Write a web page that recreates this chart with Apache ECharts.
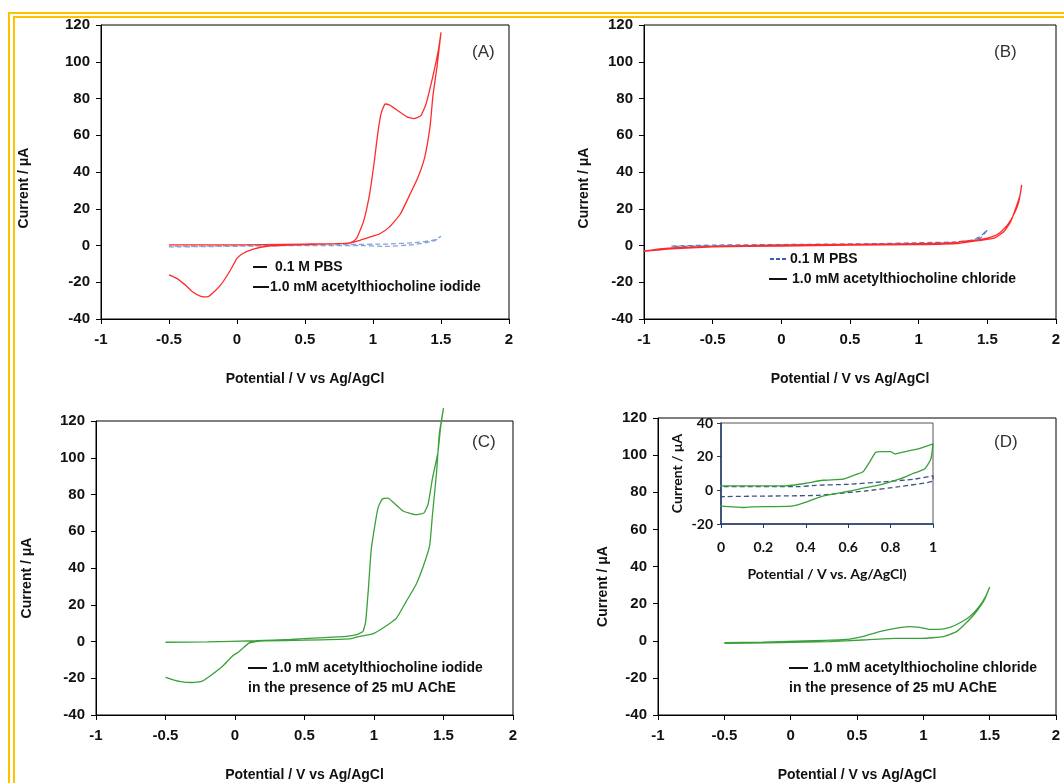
<!DOCTYPE html>
<html>
<head>
<meta charset="utf-8">
<script src="https://cdn.jsdelivr.net/npm/echarts@6/dist/echarts.min.js"></script>
<style>
  html, body { margin: 0; padding: 0; background: #fff; }
  #main { width: 1064px; height: 783px; }
</style>
</head>
<body>
<div id="main"></div>
<script>
// axis ticks
const xTicksMain = [-1, 2, 0.5]
const yTicksMain = [-40, 120, 20]
const xTicksInset = [0, 1, 0.2]
const yTicksInset = [-20, 40, 20]

// (A) red: 1.0 mM acetylthiocholine iodide, blue dashed: 0.1 M PBS
const aV = [-0.5,-0.2,0.2,0.5,0.8,0.85,0.88,0.93,0.975,1.01,1.035,1.06,1.09,1.12,1.17,1.25,1.30,1.35,1.39,1.44,1.48,1.5,
  1.47,1.44,1.42,1.38,1.33,1.26,1.2,1.12,1.05,0.975,0.9,0.83,0.5,0.22,0.12,0.04,0,-0.05,-0.115,-0.18,-0.22,-0.27,-0.33,-0.38,-0.44,-0.5]
const aI = [0.3,0.3,0.5,0.8,1.2,2,4,13,28,46,61,72,77,76.5,74,70,69,70.5,77,92,106,116,
  97,81,65,48,37,26,17,10,6.4,4.5,2.7,1.3,0.5,-0.4,-2,-4.5,-7,-13.6,-21,-26,-28,-27.5,-25,-21.5,-18,-16]
const aPbsV = [-0.5,0,0.5,0.9,1.1,1.3,1.45,1.5,1.45,1.3,1.1,0.8,0.3,-0.5]
const aPbsI = [-0.8,-0.4,0,0,-0.5,0.5,2.5,5,3,1.5,0.8,0.5,0,-0.5]

// (B) red: 1.0 mM acetylthiocholine chloride, blue dashed: 0.1 M PBS
const bV = [-1,-0.9,-0.8,-0.5,0,0.5,1,1.28,1.3,1.4,1.5,1.56,1.6,1.65,1.7,1.73,1.75,
  1.74,1.71,1.67,1.62,1.55,1.45,1.3,1,0.5,0,-0.5,-0.8,-0.9,-1]
const bI = [-3,-2,-1.3,-0.5,0.2,0.6,1,1.5,2.2,2.8,4,5.5,7.5,11.5,18,24,33,
  28,21,13,7.5,4,2.8,1.2,0.5,0.2,-0.3,-0.8,-1.8,-2.5,-3.2]
const bPbsV = [-0.8,-0.5,0,0.7,1,1.3,1.4,1.45,1.5,1.45,1.35,1,0,-0.8]
const bPbsI = [-0.3,0.2,0.5,1,1.5,2,3.2,5,8.5,4,1.8,0.8,0.2,-0.6]

// (C) green: iodide + 25 mU AChE
const cV = [-0.5,-0.2,0.15,0.4,0.6,0.8,0.87,0.92,0.94,0.96,0.98,1.01,1.03,1.06,1.1,1.15,1.21,1.3,1.36,1.39,1.42,1.46,1.48,1.5,
  1.47,1.45,1.42,1.40,1.35,1.3,1.23,1.16,1.07,0.99,0.89,0.82,0.5,0.22,0.15,0.1,0.03,-0.02,-0.09,-0.165,-0.235,-0.31,-0.38,-0.45,-0.5]
const cI = [-0.4,-0.2,0.4,1.2,2,2.8,3.6,5.4,10.8,29,50,65,73,77.5,78,75,71,69,70,75,88.5,103,117,127,
  113,92,68.5,52,40,30.6,21.6,12.6,7.6,4.1,2.7,1.4,0.7,0.4,0,-0.9,-5.4,-8,-13.5,-18,-21.6,-22.3,-22,-20.7,-19.5]

// (D) green: chloride + 25 mU AChE
const dV = [-0.5,-0.21,0.17,0.42,0.54,0.67,0.79,0.89,0.97,1.05,1.12,1.2,1.27,1.35,1.42,1.47,1.5,
  1.46,1.39,1.32,1.25,1.15,0.99,0.79,0.54,0.29,-0.08,-0.5]
const dI = [-1,-0.7,0,0.7,2.2,4.9,6.7,7.6,7.2,6.1,6.1,7.2,9.4,13,18.4,24,29,
  22,14.8,9.4,4.9,2.2,1.3,1.3,0.4,-0.5,-1,-1.4]

// (D) inset
const insetV = [-0.1,0,0.3,0.4,0.48,0.575,0.62,0.67,0.7,0.73,0.76,0.8,0.82,0.87,0.93,1,
  0.99,0.96,0.91,0.84,0.76,0.68,0.61,0.48,0.39,0.33,0.15,0.11,0,-0.1]
const insetI = [2.2,2.6,2.6,4.2,6,6.6,8.6,11,16.6,22.6,23,23,21.6,23,24.6,27.6,
  18.6,12.6,10.2,6.6,3.6,1.6,-0.4,-3.4,-7.4,-9.4,-9.8,-10.2,-9.4,-9.4]
const insetPbsV = [-0.1,0.37,0.45,0.6,0.76,0.91,1,1,0.84,0.68,0.45,0.22,0,-0.1]
const insetPbsI = [2.2,2.2,3,3.6,5,6.6,8.6,5.6,2.2,-0.4,-3,-3.4,-3.8,-5.4]

const zip = (xs, ys) => xs.map((x, i) => [x, ys[i]])

const FONT = 'Liberation Sans, Arial, sans-serif'
const INSET_FONT = 'Lato, Liberation Sans, sans-serif'
const RED = '#ff2b2b'
const GREEN = '#3aa13a'

function xAxis(gridIndex) {
  return {
    type: 'value', gridIndex, min: xTicksMain[0], max: xTicksMain[1], interval: xTicksMain[2],
    name: 'Potential / V vs Ag/AgCl', nameLocation: 'middle', nameGap: 53,
    nameTextStyle: { fontFamily: FONT, fontWeight: 'bold', fontSize: 14, color: '#111' },
    axisLine: { onZero: false, lineStyle: { color: '#000', width: 1 } },
    axisTick: { show: true, length: 5, lineStyle: { color: '#000' } },
    axisLabel: { fontFamily: FONT, fontWeight: 'bold', fontSize: 15, color: '#111', margin: 13 },
    splitLine: { show: false }
  }
}

function yAxis(gridIndex, gap, shift) {
  return {
    type: 'value', gridIndex, min: yTicksMain[0], max: yTicksMain[1], interval: yTicksMain[2],
    name: 'Current / μA', nameLocation: 'middle', nameGap: gap, nameRotate: 90,
    nameTextStyle: { fontFamily: FONT, fontWeight: 'bold', fontSize: 14, color: '#111', padding: [0, shift, 0, 0] },
    axisLine: { onZero: false, lineStyle: { color: '#000', width: 1 } },
    axisTick: { show: true, length: 5, lineStyle: { color: '#000' } },
    axisLabel: { fontFamily: FONT, fontWeight: 'bold', fontSize: 15, color: '#111', margin: 11 },
    splitLine: { show: false }
  }
}

function curve(i, data, color, dashed) {
  return {
    type: 'line', xAxisIndex: i, yAxisIndex: i, data, showSymbol: false, smooth: 0.15,
    clip: false, silent: true,
    lineStyle: { color, width: 1.3, type: dashed ? [5, 3] : 'solid' }
  }
}

function txt(x, y, text, size, weight, color) {
  return { type: 'text', x, y, style: { text, fontFamily: FONT, fontSize: size, fontWeight: weight || 'bold', fill: color || '#111', textVerticalAlign: 'middle' } }
}
function dash(x1, x2, y, color, dashed) {
  return { type: 'line', shape: { x1, y1: y, x2, y2: y }, style: { stroke: color || '#111', lineWidth: 2, lineDash: dashed ? [4, 2] : null } }
}

const chart = echarts.init(document.getElementById('main'))
chart.setOption({
  animation: false,
  grid: [
    { left: 101, top: 25, width: 408, height: 294, show: true, borderColor: '#000', borderWidth: 1 },
    { left: 644, top: 25, width: 412, height: 294, show: true, borderColor: '#000', borderWidth: 1 },
    { left: 96, top: 421, width: 417, height: 295, show: true, borderColor: '#000', borderWidth: 1 },
    { left: 658, top: 418, width: 398, height: 297, show: true, borderColor: '#000', borderWidth: 1 },
    { left: 721, top: 423, width: 212, height: 101, show: true, borderColor: '#555', borderWidth: 1, backgroundColor: 'transparent' }
  ],
  xAxis: [
    xAxis(0), xAxis(1), xAxis(2), xAxis(3),
    {
      type: 'value', gridIndex: 4, min: xTicksInset[0], max: xTicksInset[1], interval: xTicksInset[2],
      name: 'Potential / V vs. Ag/AgCl)', nameLocation: 'middle', nameGap: 43,
      nameTextStyle: { fontFamily: INSET_FONT, fontWeight: 'bold', fontSize: 14, color: '#111' },
      axisLine: { onZero: false, lineStyle: { color: '#1f3a6e', width: 1.5 } },
      axisTick: { show: true, length: 4, lineStyle: { color: '#1f3a6e' } },
      axisLabel: { fontFamily: INSET_FONT, fontWeight: 'bold', fontSize: 14, color: '#111', margin: 16 },
      splitLine: { show: false }
    }
  ],
  yAxis: [
    yAxis(0, 70, 32), yAxis(1, 53, 32), yAxis(2, 62, 20), yAxis(3, 48, 40),
    {
      type: 'value', gridIndex: 4, min: yTicksInset[0], max: yTicksInset[1], interval: yTicksInset[2],
      name: 'Current / μA', nameLocation: 'middle', nameGap: 37, nameRotate: 90,
      nameTextStyle: { fontFamily: INSET_FONT, fontWeight: 'bold', fontSize: 14, color: '#111' },
      axisLine: { onZero: false, lineStyle: { color: '#1f3a6e', width: 1.5 } },
      axisTick: { show: true, length: 4, lineStyle: { color: '#1f3a6e' } },
      axisLabel: { fontFamily: INSET_FONT, fontWeight: 'bold', fontSize: 14, color: '#111', margin: 8 },
      splitLine: { show: false }
    }
  ],
  series: [
    curve(0, zip(aPbsV, aPbsI), '#86a3d6', true),
    curve(0, zip(aV, aI), RED),
    curve(1, zip(bPbsV, bPbsI), '#5a7fc8', true),
    curve(1, zip(bV, bI), RED),
    curve(2, zip(cV, cI), GREEN),
    curve(3, zip(dV, dI), GREEN),
    curve(4, zip(insetPbsV, insetPbsI), '#3b5488', true),
    curve(4, zip(insetV, insetI), GREEN)
  ],
  graphic: [
    { type: 'rect', shape: { x: 9, y: 13, width: 1200, height: 900 }, style: { fill: 'none', stroke: '#ffc000', lineWidth: 2 } },
    { type: 'rect', shape: { x: 14, y: 17, width: 1200, height: 900 }, style: { fill: 'none', stroke: '#ffc000', lineWidth: 2 } },
    txt(472, 52, '(A)', 17, 'normal', '#333'),
    txt(994, 52, '(B)', 17, 'normal', '#333'),
    txt(472, 442, '(C)', 17, 'normal', '#333'),
    txt(994, 442, '(D)', 17, 'normal', '#333'),
    dash(253, 267, 267), txt(275, 267, '0.1 M PBS', 14),
    dash(253, 269, 287), txt(270, 287, '1.0 mM acetylthiocholine iodide', 14),
    dash(770, 786, 259, '#3b5db5', true), txt(790, 259, '0.1 M PBS', 14),
    dash(769, 787, 279), txt(792, 279, '1.0 mM acetylthiocholine chloride', 14),
    dash(248, 267, 668), txt(272, 668, '1.0 mM acetylthiocholine iodide', 14),
    txt(248, 688, 'in the presence of 25 mU AChE', 14),
    dash(789, 808, 668), txt(813, 668, '1.0 mM acetylthiocholine chloride', 14),
    txt(789, 688, 'in the presence of 25 mU AChE', 14)
  ]
})
</script>
</body>
</html>
